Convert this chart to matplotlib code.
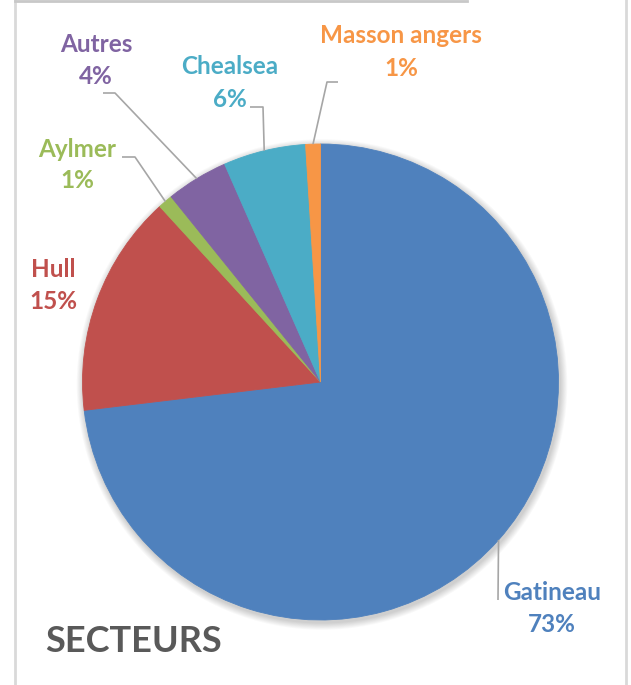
import matplotlib
matplotlib.use('Agg')
import matplotlib.pyplot as plt
import numpy as np
from matplotlib.patches import Circle

# ---- data ----
categories = ['Gatineau', 'Hull', 'Aylmer', 'Autres', 'Chealsea', 'Masson angers']
values = [73.1, 15.1, 1.0, 4.2, 5.6, 1.0]
colors = ['#4F81BD', '#C0504D', '#9BBB59', '#8064A2', '#4BACC6', '#F79646']
title = 'SECTEURS'

# ---- layout (pixel coords, origin top-left) ----
W, H = 631, 685
name_pos = [(552, 600), (53, 277), (77, 157), (96, 52), (230, 74), (401, 43)]
pct_pos = [(552, 632), (53, 309), (77, 188), (96, 84), (230, 107), (401, 76)]
leader_pts = [[(498, 600)], None, [(122, 157), (135, 157)], [(103, 93), (115, 93)],
              [(250, 107), (263, 107)], [(338, 82), (327, 82)]]

FONT = 'Lato'

fig = plt.figure(figsize=(W / 100, H / 100), dpi=100)
ax = fig.add_axes([0, 0, 1, 1])

def Y(y):
    return H - y

cx, cy, R = 320.5, Y(382), 238

# soft shadow
for i in range(8):
    ax.add_patch(Circle((cx + 1.5, cy - 2.5), R + 1 + i * 0.9, color='black',
                        alpha=0.022, lw=0, zorder=0))

wedges, _ = ax.pie(values, colors=colors, startangle=90, counterclock=False,
                   center=(cx, cy), radius=R, wedgeprops=dict(linewidth=0.6))
for w, col in zip(wedges, colors):
    w.set_edgecolor(col)
    w.set_zorder(2)

ax.set_xlim(0, W)
ax.set_ylim(0, H)
ax.set_aspect('equal')
ax.axis('off')

for w, cat, v, col, npos, ppos, lp in zip(wedges, categories, values, colors,
                                          name_pos, pct_pos, leader_pts):
    ax.text(npos[0], Y(npos[1]), cat, ha='center', va='baseline', color=col,
            fontsize=17.5, fontweight='bold', family=FONT, zorder=5)
    ax.text(ppos[0], Y(ppos[1]), f'{round(v)}%', ha='center', va='baseline',
            color=col, fontsize=17.5, fontweight='bold', family=FONT, zorder=5)
    if lp:
        th = np.deg2rad((w.theta1 + w.theta2) / 2)
        ex, ey = cx + R * np.cos(th), cy + R * np.sin(th)
        xs = [p[0] for p in lp] + [ex]
        ys = [Y(p[1]) for p in lp] + [ey]
        ax.plot(xs, ys, color='#A6A6A6', lw=1.2, zorder=3, solid_capstyle='butt')

ax.text(45, Y(652), title, ha='left', va='baseline', color='#595959',
        fontsize=26, fontweight='bold', family=FONT)

# frame
ax.plot([15, 15], [0, H], color='#D9D9D9', lw=2, zorder=1)
ax.plot([626, 626], [0, H], color='#D9D9D9', lw=2, zorder=1)
ax.plot([15, 467], [Y(0.5), Y(0.5)], color='#C8C8C8', lw=2, zorder=1)

fig.savefig('out.png', dpi=100)
